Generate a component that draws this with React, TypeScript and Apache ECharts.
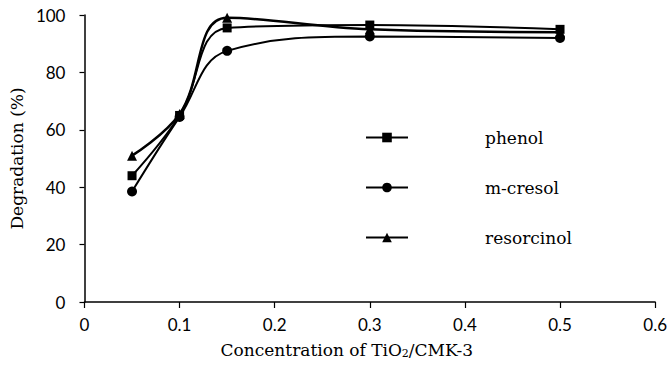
import React, { useEffect, useRef } from "react";
import * as echarts from "echarts";

const xValues = [0.05, 0.1, 0.15, 0.3, 0.5];
const phenol = [44, 65, 95.5, 96.5, 95];
const mCresol = [38.5, 64.5, 87.5, 92.5, 92];
const resorcinol = [51, 65.5, 99, 95, 94];
const seriesNames = ["phenol", "m-cresol", "resorcinol"];

const SERIF = "DejaVu Serif";
const SANS = "Lato";

export default function App() {
  const ref = useRef<HTMLDivElement>(null);
  useEffect(() => {
    if (!ref.current) return;
    const chart = echarts.init(ref.current, null, { renderer: "svg" });
    const mk = (vals: number[]) => xValues.map((x, i) => [x, vals[i]]);
    const legendBase = (name: string, top: number) => ({
      data: [name],
      left: 365,
      top,
      orient: "vertical",
      itemWidth: 42,
      itemHeight: 12,
      padding: 0,
      selectedMode: false,
      textStyle: {
        fontFamily: SERIF,
        fontSize: 17,
        color: "#000",
        padding: [0, 0, 0, 72],
      },
    });
    chart.setOption({
      animation: false,
      backgroundColor: "#fff",
      grid: { left: 82, right: 14, top: 15, bottom: 68, containLabel: false },
      legend: [
        legendBase(seriesNames[0], 129),
        legendBase(seriesNames[1], 179),
        legendBase(seriesNames[2], 229),
      ],
      xAxis: {
        type: "value",
        min: 0,
        max: 0.6,
        interval: 0.1,
        name: "Concentration of TiO{sub|2}/CMK-3",
        nameLocation: "middle",
        nameGap: 38,
        nameTextStyle: {
          fontFamily: SERIF,
          fontSize: 17,
          color: "#000",
          padding: [0, 46, 0, 0],
          rich: {
            sub: { fontFamily: SERIF, fontSize: 11, color: "#000", verticalAlign: "bottom", padding: [8, 0, 0, 0] },
          },
        },
        axisLine: { lineStyle: { color: "#000", width: 1.5 } },
        axisTick: { show: true, length: 6, lineStyle: { color: "#000", width: 1.2 } },
        axisLabel: { fontFamily: SANS, fontSize: 17, color: "#000", margin: 14 },
        splitLine: { show: false },
      },
      yAxis: {
        type: "value",
        min: 0,
        max: 100,
        interval: 20,
        name: "Degradation (%)",
        nameLocation: "middle",
        nameGap: 50,
        nameTextStyle: { fontFamily: SERIF, fontSize: 17, color: "#000" },
        axisLine: { show: true, lineStyle: { color: "#000", width: 1.5 } },
        axisTick: { show: true, length: 5, lineStyle: { color: "#000", width: 1.2 } },
        axisLabel: { fontFamily: SANS, fontSize: 17, color: "#000", margin: 19 },
        splitLine: { show: false },
      },
      series: [
        {
          name: seriesNames[0],
          type: "line",
          data: mk(phenol),
          smooth: 0.4,
          symbol: "rect",
          symbolSize: 9,
          itemStyle: { color: "#000" },
          lineStyle: { color: "#000", width: 2 },
        },
        {
          name: seriesNames[1],
          type: "line",
          data: mk(mCresol),
          smooth: 0.4,
          symbol: "circle",
          symbolSize: 10,
          itemStyle: { color: "#000" },
          lineStyle: { color: "#000", width: 2 },
        },
        {
          name: seriesNames[2],
          type: "line",
          data: mk(resorcinol),
          smooth: 0.4,
          symbol: "triangle",
          symbolSize: 10,
          itemStyle: { color: "#000" },
          lineStyle: { color: "#000", width: 2.5 },
        },
      ],
    });
    return () => chart.dispose();
  }, []);
  return <div ref={ref} style={{ width: 670, height: 370, position: "absolute", left: 0, top: 0 }} />;
}
